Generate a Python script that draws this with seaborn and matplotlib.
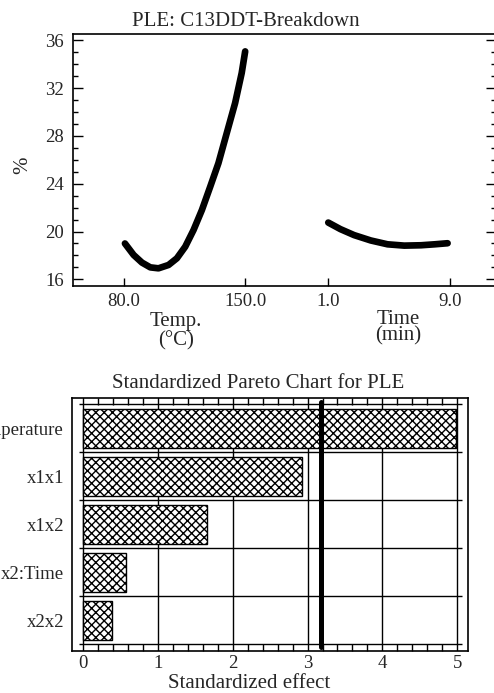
import numpy as np
import pandas as pd
import matplotlib
matplotlib.use("Agg")
import matplotlib.pyplot as plt
import seaborn as sns

# main effects curves
temp_c = [80.8, 85.8, 90.6, 95.4, 100.1, 105.9, 110.7, 115.5, 120.3, 125.1,
          129.9, 134.6, 139.4, 144.2, 148.0, 150.0]
temp_pct = [19.0, 18.04, 17.4, 17.0, 16.92, 17.2, 17.76, 18.73, 20.13, 21.8,
            23.76, 25.72, 28.24, 30.75, 33.27, 35.08]
time_min = [1.0, 1.8, 2.7, 3.8, 4.9, 6.0, 7.1, 8.0, 8.85]
time_pct = [20.75, 20.2, 19.7, 19.25, 18.93, 18.82, 18.85, 18.93, 19.02]

# pareto chart
terms = ["x1:Temperature", "x1x1", "x1x2", "x2:Time", "x2x2"]
effects = [4.98, 2.92, 1.65, 0.57, 0.38]
threshold = 3.18

sns.set_theme(style="white")
plt.rcParams["font.family"] = ["Liberation Serif", "DejaVu Serif"]
plt.rcParams["hatch.linewidth"] = 1.0

W, H = 494, 693
fig = plt.figure(figsize=(W / 100, H / 100), dpi=100)


def box(l, t, r, b):
    return [l / W, 1 - b / H, (r - l) / W, (b - t) / H]


def temp_pos(v):
    return (np.asarray(v, dtype=float) - 80) / 70


def time_pos(v):
    return 1.683 + (np.asarray(v, dtype=float) - 1) / 8


# ---- top: main effects plot ----
ax1 = fig.add_axes(box(73.3, 33.7, 496, 286))
df_t = pd.DataFrame({"pos": temp_pos(temp_c), "pct": temp_pct})
df_m = pd.DataFrame({"pos": time_pos(time_min), "pct": time_pct})
for d in (df_t, df_m):
    sns.lineplot(data=d, x="pos", y="pct", sort=False, color="black", lw=4.8,
                 solid_capstyle="round", solid_joinstyle="round", ax=ax1)
ax1.set_xlim(-0.413, 3.062)
ax1.set_ylim(15.44, 36.56)
ax1.set_yticks([16, 20, 24, 28, 32, 36])
ax1.set_yticks(np.arange(16, 37, 1), minor=True)
ax1.set_xticks(list(temp_pos([80, 150])) + list(time_pos([1, 9])))
ax1.set_xticklabels(["80.0", "150.0", "1.0", "9.0"])
ax1.tick_params(axis="y", which="both", direction="in", left=True, right=True,
                labelsize=13.5, pad=7, color="black", width=1)
ax1.tick_params(axis="y", which="major", length=7)
ax1.tick_params(axis="y", which="minor", length=3.5)
ax1.tick_params(axis="x", direction="in", bottom=True, length=6, width=1,
                labelsize=13.5, pad=5, color="black")
ax1.set_xlabel("")
ax1.set_ylabel("")
for s in ax1.spines.values():
    s.set_color("black")
    s.set_linewidth(1.2)

fig.text(246 / W, 1 - 21 / H, "PLE: C13DDT-Breakdown", ha="center", va="center", fontsize=15)
fig.text(23 / W, 1 - 165 / H, "%", ha="center", va="center", rotation=90, fontsize=15)
fig.text(176 / W, 1 - 331 / H, "Temp.\n(°C)", ha="center", va="center", fontsize=15, linespacing=1.0)
fig.text(398 / W, 1 - 328 / H, "Time\n(min)", ha="center", va="center", fontsize=15, linespacing=0.8)

# ---- bottom: standardized pareto chart ----
ax2 = fig.add_axes(box(72.3, 397.7, 468.3, 651))
pareto = pd.DataFrame({"term": terms, "effect": effects})
sns.barplot(data=pareto, x="effect", y="term", orient="h", color="white",
            edgecolor="black", linewidth=1, hatch="xxxx", width=0.82, ax=ax2)
ax2.set_xlim(-0.147, 5.15)
ax2.set_ylim(4.64, -0.64)
for xv in range(6):
    ax2.axvline(xv, color="black", lw=1, zorder=0.5)
ax2.hlines(np.arange(-0.5, 5.0, 1.0), -0.058, 5.06, color="black", lw=1, zorder=0.5)
ax2.vlines(threshold, -0.55, 4.55, color="black", lw=3.6, capstyle="round", zorder=5)
ax2.set_xticks(range(6))
ax2.set_xticks(np.arange(0, 5.01, 0.2), minor=True)
ax2.tick_params(axis="x", which="both", direction="in", bottom=True, top=True,
                color="black", width=1, labelsize=13.5, pad=3)
ax2.tick_params(axis="x", which="minor", length=5)
ax2.tick_params(axis="x", which="major", length=0)
ax2.tick_params(axis="y", left=False, length=0, labelsize=13.5, pad=6)
ax2.set_xlabel("")
ax2.set_ylabel("")
for s in ax2.spines.values():
    s.set_color("black")
    s.set_linewidth(1.2)

fig.text(258 / W, 1 - 383 / H, "Standardized Pareto Chart for PLE", ha="center", va="center", fontsize=15)
fig.text(249 / W, 1 - 683 / H, "Standardized effect", ha="center", va="center", fontsize=15)

fig.savefig("out.png", dpi=100)
